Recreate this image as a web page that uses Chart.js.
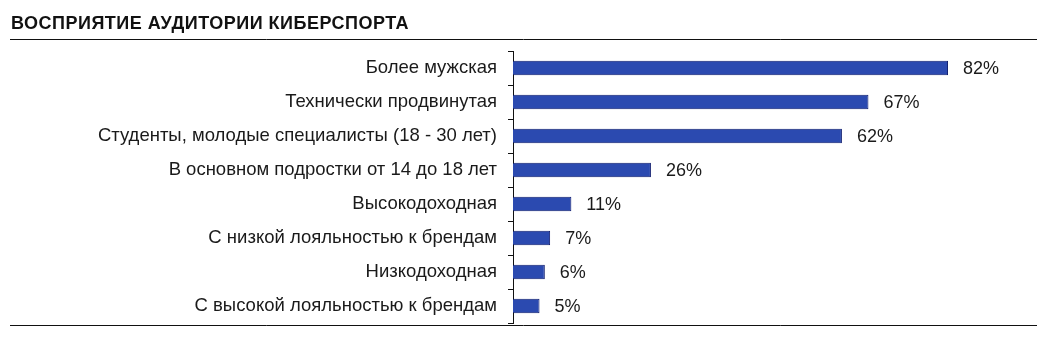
<!DOCTYPE html>
<html>
<head>
<meta charset="utf-8">
<script src="https://cdn.jsdelivr.net/npm/chart.js@4"></script>
<style>
  html, body { margin: 0; padding: 0; background: #fff; }
  #wrap { width: 1046px; height: 337px; }
</style>
</head>
<body>
<div id="wrap"><canvas id="myChart" width="1046" height="337"></canvas></div>
<script>
const title = "ВОСПРИЯТИЕ АУДИТОРИИ КИБЕРСПОРТА";

const labels = [
  "Более мужская",
  "Технически продвинутая",
  "Студенты, молодые специалисты (18 - 30 лет)",
  "В основном подростки от 14 до 18 лет",
  "Высокодоходная",
  "С низкой лояльностью к брендам",
  "Низкодоходная",
  "С высокой лояльностью к брендам",
];

const values = [82, 67, 62, 26, 11, 7, 6, 5];

const fontFamily = "'Liberation Sans', Arial, Helvetica, sans-serif";

// title, horizontal rules and value labels
const decor = {
  id: "decor",
  afterDraw(chart) {
    const ctx = chart.ctx;
    ctx.save();
    ctx.fillStyle = "#111";
    ctx.font = "bold 18px " + fontFamily;
    ctx.letterSpacing = "0.5px";
    ctx.textBaseline = "alphabetic";
    ctx.fillText(title, 11, 29);
    ctx.letterSpacing = "0px";

    ctx.strokeStyle = "#111";
    ctx.lineWidth = 1;
    ctx.beginPath();
    ctx.moveTo(10, 39.5);
    ctx.lineTo(1037, 39.5);
    ctx.moveTo(10, 325.5);
    ctx.lineTo(1037, 325.5);
    ctx.stroke();

    const meta = chart.getDatasetMeta(0);
    ctx.font = "18px " + fontFamily;
    ctx.fillStyle = "#1a1a1a";
    ctx.textBaseline = "middle";
    meta.data.forEach((bar, i) => {
      ctx.fillText(values[i] + "%", bar.x + 15, bar.y + 1);
    });
    ctx.restore();
  },
};

const data = {
  labels: labels,
  datasets: [
    {
      data: values,
      backgroundColor: "#2b4ab0",
      borderColor: "#0d1b6e",
      borderWidth: 1,
      barPercentage: 0.86,
      categoryPercentage: 0.5,
    },
  ],
};

const config = {
  type: "bar",
  data: data,
  plugins: [decor],
  options: {
    indexAxis: "y",
    responsive: false,
    animation: false,
    layout: {
      padding: { left: 10, right: 29, top: 51, bottom: 14 },
    },
    plugins: {
      legend: { display: false },
      tooltip: { enabled: false },
    },
    scales: {
      x: {
        min: 0,
        max: 95,
        display: false,
      },
      y: {
        afterFit(scale) {
          scale.width = 503;
          scale.paddingTop = 0;
          scale.paddingBottom = 0;
        },
        border: { color: "#111", width: 1 },
        grid: {
          drawOnChartArea: false,
          tickLength: 5,
          color: "#111",
        },
        ticks: {
          padding: 11,
          color: "#1a1a1a",
          font: { size: 18.5, family: fontFamily },
        },
      },
    },
  },
};

const myChart = new Chart(document.getElementById("myChart"), config);
</script>
</body>
</html>
